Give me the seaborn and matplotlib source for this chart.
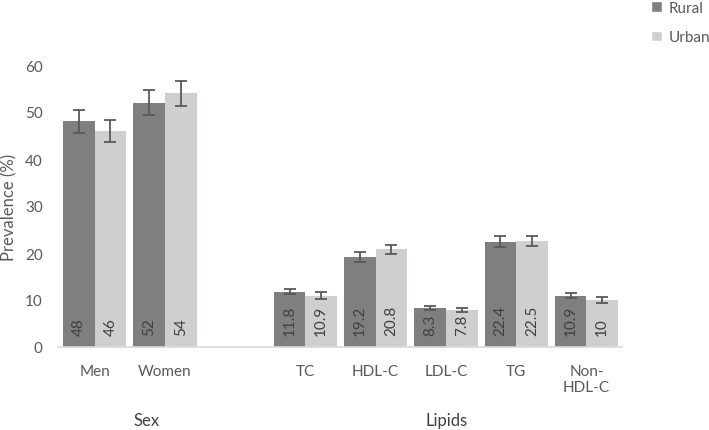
import matplotlib
matplotlib.use("Agg")
import matplotlib.pyplot as plt
import seaborn as sns
import pandas as pd
from matplotlib.patches import Patch

categories = ["Men", "Women", "TC", "HDL-C", "LDL-C", "TG", "Non-HDL-C"]
tick_labels = ["Men", "Women", "", "TC", "HDL-C", "LDL-C", "TG", "Non-\nHDL-C"]
rural = [48, 52, 11.8, 19.2, 8.3, 22.4, 10.9]
urban = [46, 54, 10.9, 20.8, 7.8, 22.5, 10]
rural_err = [2.5, 2.6, 0.55, 1.05, 0.45, 1.15, 0.55]
urban_err = [2.4, 2.7, 0.7, 0.95, 0.45, 1.1, 0.55]
groups = ["Sex", "Lipids"]

order = ["Men", "Women", "gap", "TC", "HDL-C", "LDL-C", "TG", "Non-HDL-C"]

df = pd.DataFrame({
    "Category": categories * 2,
    "Area": ["Rural"] * len(categories) + ["Urban"] * len(categories),
    "Value": rural + urban,
    "Err": rural_err + urban_err,
})

sns.set_style("white")
plt.rcParams["font.family"] = ["Lato", "DejaVu Sans"]

colors = {"Rural": "#7f7f7f", "Urban": "#d0cece"}
fig = plt.figure(figsize=(7.09, 4.31), dpi=100)
ax = fig.add_axes([59.5 / 709, 83 / 431, (621.6 - 59.5) / 709, (348 - 66) / 431])

sns.barplot(data=df, x="Category", y="Value", hue="Area", order=order,
            hue_order=["Rural", "Urban"], palette=colors, width=0.9,
            errorbar=None, ax=ax, legend=False, saturation=1, linewidth=0)

lookup = {(r.Category, r.Area): (r.Value, r.Err) for r in df.itertuples()}
for cont, area in zip(ax.containers, ["Rural", "Urban"]):
    for p in cont.patches:
        h = p.get_height()
        if h == 0 or pd.isna(h):
            continue
        xc = p.get_x() + p.get_width() / 2
        idx = int(round(xc))
        cat = order[idx]
        val, err = lookup[(cat, area)]
        ax.errorbar(xc, val, yerr=err, fmt="none", ecolor="#595959",
                    elinewidth=1.3, capsize=4, capthick=1.3, zorder=5)
        ax.text(xc, 2.6, f"{val:g}", rotation=90, ha="center", va="bottom",
                fontsize=11, color="#404040")

ax.set_xlim(-0.5, 7.5)
ax.set_ylim(0, 60)
ax.set_yticks(range(0, 61, 10))
ax.set_xticks(range(len(order)))
ax.set_xticklabels(tick_labels)
ax.set_xlabel("")
ax.set_ylabel("Prevalence (%)", fontsize=12, color="#595959")
ax.yaxis.set_label_coords((17 - 59.5) / 562.1, 0.5)
ax.tick_params(axis="both", length=0, labelsize=11, colors="#595959")
ax.tick_params(axis="y", pad=12)
ax.tick_params(axis="x", pad=12)
for s in ["top", "right", "left"]:
    ax.spines[s].set_visible(False)
ax.spines["bottom"].set_color("#d9d9d9")
ax.spines["bottom"].set_linewidth(1.2)

fig.text(147 / 709, 1 - 421 / 431, groups[0], ha="center", va="center",
         fontsize=12, color="#404040")
fig.text(447 / 709, 1 - 421 / 431, groups[1], ha="center", va="center",
         fontsize=12, color="#404040")

handles = [Patch(facecolor=colors["Rural"], label="Rural"),
           Patch(facecolor=colors["Urban"], label="Urban")]
leg = fig.legend(handles=handles, loc="upper left",
                 bbox_to_anchor=(651 / 709, 1 - 2 / 431), frameon=False,
                 borderpad=0, borderaxespad=0,
                 handlelength=0.7, handleheight=0.7, handletextpad=0.45,
                 labelspacing=1.0, fontsize=11)
for t in leg.get_texts():
    t.set_color("#595959")

fig.savefig("out.png", dpi=100)
